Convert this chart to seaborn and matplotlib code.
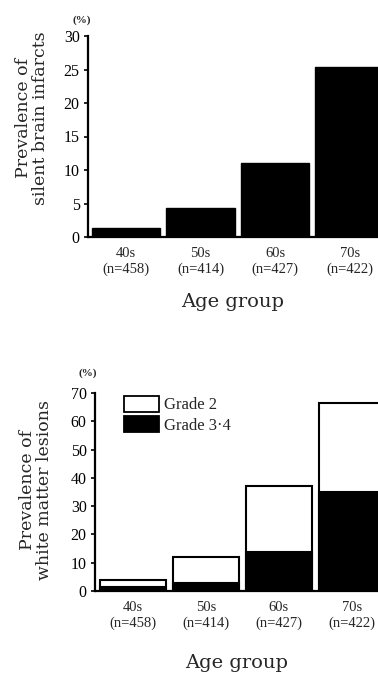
import matplotlib
matplotlib.use("Agg")
import matplotlib.pyplot as plt
from matplotlib.patches import Patch
import seaborn as sns
import pandas as pd

# data
groups = ["40s", "50s", "60s", "70s"]
n_labels = ["(n=458)", "(n=414)", "(n=427)", "(n=422)"]
infarcts = [1.3, 4.3, 11.0, 25.4]
wml_total = [4.0, 12.0, 37.2, 66.4]
wml_grade34 = [1.5, 2.8, 13.8, 35.0]

sns.set_style("ticks")
plt.rcParams["font.family"] = ["Liberation Serif", "DejaVu Serif"]
WIDE = ["DejaVu Serif"]

tick_labels = [g + "\n" + n for g, n in zip(groups, n_labels)]
df_top = pd.DataFrame({"group": groups, "value": infarcts})
df_bot = pd.DataFrame({"group": groups, "total": wml_total, "grade34": wml_grade34})

fig = plt.figure(figsize=(3.78, 6.78), dpi=100)
W, H = 378, 678


def add_axes(left, top, right, bottom):
    return fig.add_axes([left / W, 1 - bottom / H, (right - left) / W, (bottom - top) / H])


def style(ax, ymax, step, xlim, xpad):
    ax.set_ylim(0, ymax)
    ax.set_xlim(*xlim)
    ax.set_yticks(range(0, ymax + 1, step))
    ax.set_xticks(range(len(groups)))
    ax.set_xticklabels(tick_labels, fontsize=10.5, linespacing=1.3)
    ax.tick_params(axis="y", direction="out", length=3, width=1.2, labelsize=11.5, pad=3, colors="black")
    ax.tick_params(axis="x", length=0, pad=7)
    for s in ["top", "right"]:
        ax.spines[s].set_visible(False)
    for s in ["left", "bottom"]:
        ax.spines[s].set_linewidth(1.6)
        ax.spines[s].set_color("black")
    ax.set_ylabel("")
    ax.set_xlabel("Age group", fontsize=14, family=WIDE, labelpad=xpad)


# top panel: silent brain infarcts
ax1 = add_axes(88, 36, 378, 237)
sns.barplot(data=df_top, x="group", y="value", order=groups, color="black",
            edgecolor="black", width=0.92, saturation=1, ax=ax1)
style(ax1, 30, 5, (-0.51, 3.38), 12)
fig.text(82 / W, 1 - 20 / H, "(%)", fontsize=8, ha="center", va="center", weight="bold")
fig.text(32 / W, 1 - 118 / H, "Prevalence of\nsilent brain infarcts", rotation=90, family=WIDE,
         fontsize=12.5, ha="center", va="center", multialignment="center", linespacing=1.05)

# bottom panel: white matter lesions
ax2 = add_axes(95, 393, 378, 591)
sns.barplot(data=df_bot, x="group", y="total", order=groups, color="white",
            edgecolor="black", linewidth=1.5, width=0.9, saturation=1, ax=ax2)
sns.barplot(data=df_bot, x="group", y="grade34", order=groups, color="black",
            edgecolor="black", linewidth=1.5, width=0.9, saturation=1, ax=ax2)
style(ax2, 70, 10, (-0.52, 3.36), 17)
fig.text(88 / W, 1 - 373 / H, "(%)", fontsize=8, ha="center", va="center", weight="bold")
fig.text(36 / W, 1 - 490 / H, "Prevalence of\nwhite matter lesions", rotation=90, family=WIDE,
         fontsize=12.5, ha="center", va="center", multialignment="center", linespacing=1.05)

handles = [Patch(facecolor="white", edgecolor="black", linewidth=1.3, label="Grade 2"),
           Patch(facecolor="black", edgecolor="black", linewidth=1.3, label="Grade 3\u00b74")]
ax2.legend(handles=handles, loc="upper left", bbox_to_anchor=(0.08, 1.02), frameon=False,
           prop={"family": "Liberation Serif", "size": 12}, handlelength=2.1, handleheight=1.1,
           handletextpad=0.3, labelspacing=0.15, borderaxespad=0)

fig.savefig("out.png", dpi=100)
